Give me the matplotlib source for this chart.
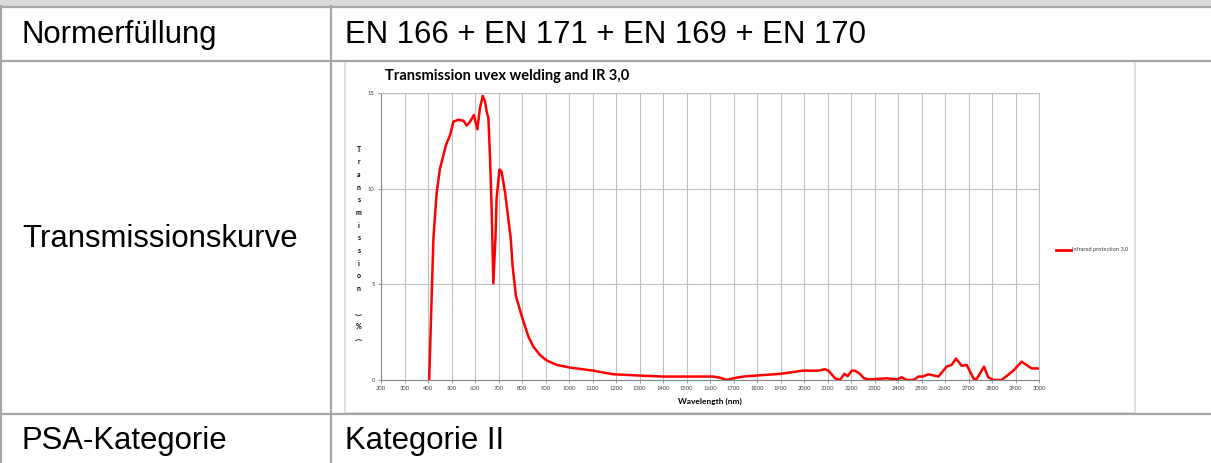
import matplotlib.pyplot as plt
from matplotlib.patches import Rectangle

# table content
row_labels = ["Normerfüllung", "Transmissionskurve", "PSA-Kategorie"]
row_values = ["EN 166 + EN 171 + EN 169 + EN 170", None, "Kategorie II"]

# transmission curve (nm, %)
wavelength = [405, 423, 437, 451, 477, 494, 508, 529, 551, 565, 579, 595,
              610, 621, 633, 643, 650, 657, 664, 671, 678, 687, 692, 704, 713, 728,
              742, 752, 760, 774, 799, 827, 848, 877, 905, 948, 1004, 1103, 1146,
              1188, 1302, 1401, 1557, 1614, 1643, 1671, 1699, 1742, 1806, 1898,
              1997, 2061, 2089, 2104, 2132, 2153, 2172, 2186, 2203, 2217, 2238,
              2255, 2280, 2352, 2395, 2416, 2437, 2466, 2487, 2506, 2529, 2572,
              2607, 2628, 2647, 2671, 2692, 2721, 2732, 2766, 2784, 2806, 2841,
              2891, 2926, 2968, 3000]
transmission = [0.0, 7.4, 9.8, 11.05, 12.3, 12.8, 13.5, 13.6, 13.55, 13.3,
                13.5, 13.85, 13.1, 14.2, 14.85, 14.55, 14.0, 13.7, 11.6, 8.9, 5.05,
                7.4, 9.5, 11.0, 10.9, 9.8, 8.4, 7.4, 5.96, 4.4, 3.33, 2.28, 1.75,
                1.3, 1.02, 0.79, 0.65, 0.49, 0.39, 0.3, 0.23, 0.18, 0.18, 0.18,
                0.12, 0.0, 0.09, 0.18, 0.24, 0.32, 0.49, 0.49, 0.56, 0.49, 0.09,
                0.0, 0.32, 0.2, 0.49, 0.49, 0.32, 0.09, 0.03, 0.09, 0.03, 0.14,
                0.0, 0.0, 0.18, 0.18, 0.3, 0.18, 0.7, 0.79, 1.12, 0.74, 0.79, 0.09,
                0.0, 0.7, 0.14, 0.0, 0.0, 0.49, 0.96, 0.61, 0.6]

x_ticks = list(range(200, 3001, 100))
y_ticks = [0, 5, 10, 15]
ylabel_chars = list("Transmission") + [" ", "(", "%", ")"]

W, H = 1211, 463
fig = plt.figure(figsize=(W / 100, H / 100), dpi=100)

# overlay in pixel coordinates for the table
ov = fig.add_axes([0, 0, 1, 1])
ov.set_xlim(0, W)
ov.set_ylim(H, 0)
ov.axis("off")

line_c = "#a6a6a6"
ov.add_patch(Rectangle((0, 0), W, 6, facecolor="#d9d9d9", edgecolor="none"))
for y in [6.5, 61, 414]:
    ov.plot([0, W], [y, y], color=line_c, lw=1.6)
ov.plot([1, 1], [6, H], color=line_c, lw=1.6)
ov.plot([331, 331], [6, H], color=line_c, lw=1.6)

# embedded chart image frame
ov.add_patch(Rectangle((345, 61), 790, 352, facecolor="white", edgecolor="#d9d9d9", lw=1.2))

txt_kw = dict(family="Liberation Sans", fontsize=22.4,
              color="black", va="center", ha="left")
ov.text(22, 35, row_labels[0], **txt_kw)
ov.text(345, 35, row_values[0], **txt_kw)
ov.text(22, 239, row_labels[1], **txt_kw)
ov.text(22, 441, row_labels[2], **txt_kw)
ov.text(345, 441, row_values[2], **txt_kw)

# chart title, y label, x label, legend
ov.text(385, 76, "Transmission uvex welding and IR 3,0", family="Lato",
        fontweight="bold", fontsize=10.5, va="center", ha="left")
for i, ch in enumerate(ylabel_chars):
    ov.text(359, 149 + i * 12.7, ch, family="Lato", fontweight="bold",
            fontsize=5, va="center", ha="center",
            rotation=90 if ch in "()" else 0)
ov.text(710, 401, "Wavelength (nm)", family="Lato", fontweight="bold",
        fontsize=6, va="center", ha="center")
ov.plot([1056, 1071], [250, 250], color="#ff0000", lw=2)
ov.text(1072, 250, "Infrared protection 3,0", family="Lato", fontsize=4.1,
        color="#404040", va="center", ha="left")

# chart axes
x0, x1, y_top, y_bot = 381, 1039, 93, 380
ax = fig.add_axes([x0 / W, (H - y_bot) / H, (x1 - x0) / W, (y_bot - y_top) / H])
ax.plot(wavelength, transmission, color="#ff0000", lw=1.8, solid_joinstyle="round")
ax.set_xlim(200, 3000)
ax.set_ylim(0, 15)
ax.set_xticks(x_ticks)
ax.set_yticks(y_ticks)
ax.set_xticklabels([str(v) for v in x_ticks], family="Lato", fontsize=4.2, color="#404040")
ax.set_yticklabels([str(v) for v in y_ticks], family="Lato", fontsize=4.2, color="#404040")
ax.tick_params(axis="both", length=2.5, width=0.6, color="#868686", pad=2)
ax.grid(True, color="#bfbfbf", lw=0.8)
ax.set_axisbelow(True)
for side in ["top", "right"]:
    ax.spines[side].set_color("#bfbfbf")
    ax.spines[side].set_linewidth(0.8)
for side in ["left", "bottom"]:
    ax.spines[side].set_color("#868686")
    ax.spines[side].set_linewidth(0.8)

fig.savefig("out.png", dpi=100)
